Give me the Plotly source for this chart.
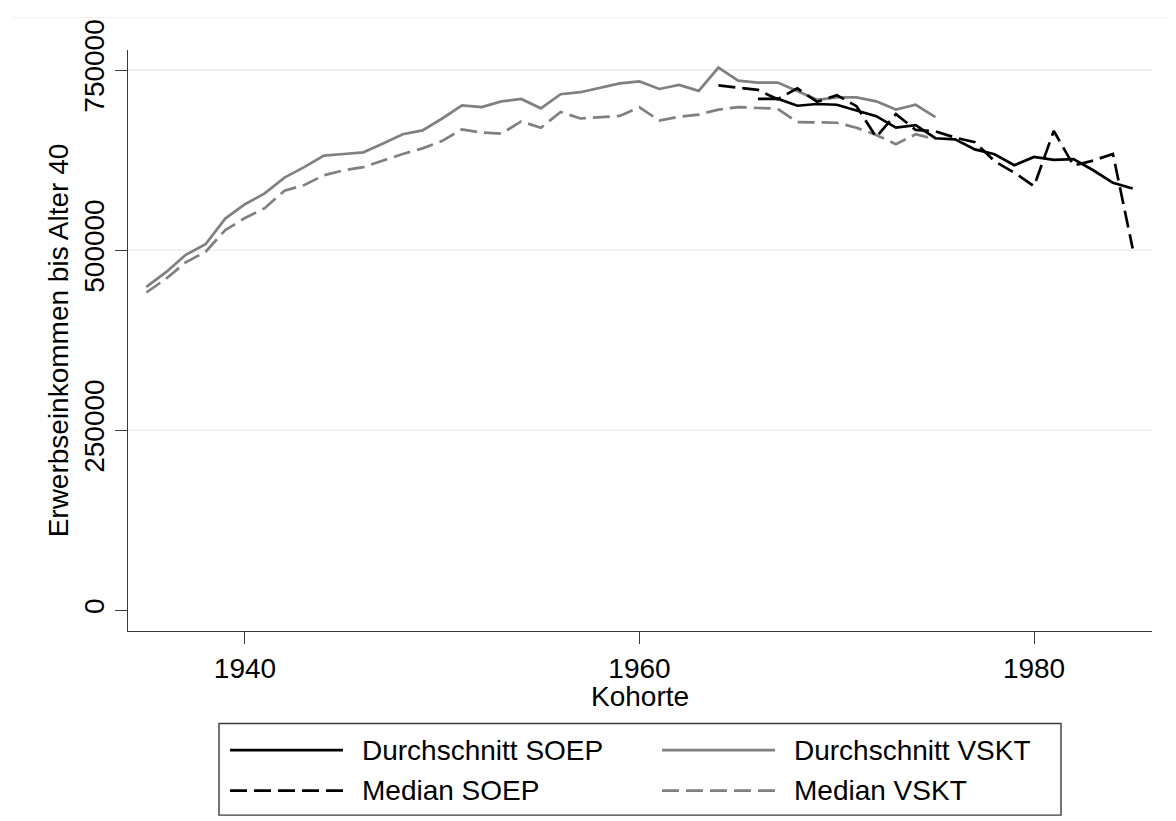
import plotly.graph_objects as go

# Kohorten
years_vskt = list(range(1935, 1976))
years_soep_mean = list(range(1966, 1986))
years_soep_median = list(range(1964, 1986))

mean_vskt = [
    449000, 469500, 493700, 508300, 543900, 563900, 578900, 600800, 615400, 631400,
    633600, 635900, 648200, 661000, 666400, 682900, 701100, 698800, 706700, 710000,
    697000, 716600, 719400, 725800, 731700, 734400, 723900, 729400, 721200, 753600,
    735400, 732700, 732700, 721200, 708900, 712100, 712100, 706700, 695300, 702000,
    684800,
]
median_vskt = [
    441300, 460500, 483200, 497800, 527900, 544700, 558400, 582600, 590400, 604100,
    610900, 615400, 624600, 633600, 641400, 651900, 667800, 663300, 661900, 678800,
    670100, 692000, 682900, 685200, 686500, 698400, 680100, 685200, 688300, 695200,
    698800, 697500, 696500, 678000, 677000, 677000, 670100, 660000, 647300, 661000,
    654200,
]
mean_soep = [
    710000, 710500, 700600, 703000, 702000, 693800, 686100, 670100, 673800, 655500,
    654000, 640000, 633200, 618000, 629500, 625500, 626500, 611000, 593500, 585700,
]
median_soep = [
    728900, 725800, 722600, 709800, 724800, 706000, 715300, 700000, 657000, 689000,
    667000, 665000, 656400, 650000, 623600, 607600, 589000, 665600, 617700, 624500,
    633600, 502300,
]

x_ticks = [1940, 1960, 1980]
y_ticks = [0, 250000, 500000, 750000]
grid_vals = [250000, 500000, 750000]

legend_labels = ["Durchschnitt SOEP", "Median SOEP", "Durchschnitt VSKT", "Median VSKT"]

FONT = "Liberation Sans, Arial, sans-serif"
AXIS_COLOR = "#3a3a3a"
GRAY = "#808080"
DASH = "17px,7px"
TEXT = {"size": 28, "color": "black", "family": FONT}

# the page body adds 8px, so the figure is 8px smaller and margins shifted
W, H = 1168, 813
ML, MR, MT, MB = 120, 24, 33, 190
PW, PH = W - ML - MR, H - MT - MB


def px(x):
    return (x - 8 - ML) / PW


def py(y):
    return (H - MB - (y - 8)) / PH


fig = go.Figure()

series = [
    (years_soep_mean, mean_soep, "black", "solid", legend_labels[0]),
    (years_soep_median, median_soep, "black", DASH, legend_labels[1]),
    (years_vskt, mean_vskt, GRAY, "solid", legend_labels[2]),
    (years_vskt, median_vskt, GRAY, DASH, legend_labels[3]),
]

# VSKT first so SOEP lies on top
for xs, ys, color, dash, name in series[2:] + series[:2]:
    fig.add_trace(
        go.Scatter(
            x=xs,
            y=ys,
            mode="lines",
            name=name,
            line={"color": color, "width": 2.7, "dash": dash},
            showlegend=False,
        )
    )

shapes = []
for v in grid_vals:
    shapes.append(
        dict(type="line", xref="paper", yref="y", x0=0, x1=1, y0=v, y1=v,
             line={"color": "#e8eff1", "width": 1.6}, layer="below")
    )

# faint outer frame line at the top
shapes.append(
    dict(type="line", xref="paper", yref="paper", x0=px(13), x1=px(1180), y0=py(8), y1=py(8),
         line={"color": "#f0f0f0", "width": 1})
)

# legend box
shapes.append(
    dict(type="rect", xref="paper", yref="paper", x0=px(219), x1=px(1061), y0=py(818), y1=py(725),
         line={"color": AXIS_COLOR, "width": 1.4}, fillcolor="white")
)

annotations = [
    dict(text="Kohorte", xref="paper", yref="paper", x=0.5, y=py(698), xanchor="center",
         yanchor="middle", showarrow=False, font=TEXT)
]
legend_rows = [py(752), py(793)]
legend_cols = [(px(230), px(343), px(360)), (px(662), px(775), px(792))]
for i, (xs, ys, color, dash, name) in enumerate(series):
    col = legend_cols[i // 2]
    row = legend_rows[i % 2]
    shapes.append(
        dict(type="line", xref="paper", yref="paper", x0=col[0], x1=col[1], y0=row, y1=row,
             line={"color": color, "width": 2.7, "dash": dash})
    )
    annotations.append(
        dict(text=name, xref="paper", yref="paper", x=col[2], y=row, xanchor="left",
             yanchor="middle", showarrow=False, font=TEXT)
    )

fig.update_xaxes(
    range=[1934.07, 1985.98],
    tickvals=x_ticks,
    ticks="outside",
    ticklen=12,
    tickwidth=1.4,
    tickcolor=AXIS_COLOR,
    showline=True,
    linecolor=AXIS_COLOR,
    linewidth=1.4,
    showgrid=False,
    zeroline=False,
    tickfont=TEXT,
)

fig.update_yaxes(
    range=[-28700, 778000],
    tickvals=y_ticks,
    tickformat="d",
    tickangle=-90,
    ticks="outside",
    ticklen=12,
    tickwidth=1.4,
    tickcolor=AXIS_COLOR,
    showline=True,
    linecolor=AXIS_COLOR,
    linewidth=1.4,
    showgrid=False,
    zeroline=False,
    tickfont=TEXT,
    title={"text": "Erwerbseinkommen bis Alter 40", "font": TEXT, "standoff": 1},
)

fig.update_layout(
    width=W,
    height=H,
    margin={"l": ML, "r": MR, "t": MT, "b": MB},
    plot_bgcolor="white",
    paper_bgcolor="white",
    shapes=shapes,
    annotations=annotations,
    showlegend=False,
)

fig.write_html("out.html")
